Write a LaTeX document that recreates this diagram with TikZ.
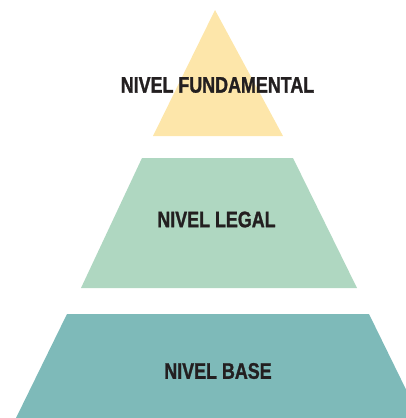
\documentclass[tikz,border=0pt]{standalone}
\usepackage{fontspec}
\newfontfamily\labelfont[FakeStretch=0.795,FakeBold=1.2]{Liberation Sans}
\definecolor{topyellow}{HTML}{FDE6AA}
\definecolor{midgreen}{HTML}{AFD7C1}
\definecolor{baseteal}{HTML}{7EBAB9}
\definecolor{labeltext}{HTML}{231F20}
\begin{document}
\begin{tikzpicture}[x=1pt,y=-1pt,
  tier/.style={draw=none},
  tierlabel/.style={font=\labelfont\bfseries\fontsize{22.5}{24}\selectfont, text=labeltext, inner sep=0pt}]
\useasboundingbox (0,0) rectangle (406,418);
\begin{scope}
\clip (0,0) rectangle (406,418);
\fill[tier, topyellow] (215,10) -- (283,136) -- (153,136) -- cycle;
\fill[tier, midgreen] (142,158) -- (293,158) -- (357,288) -- (81,288) -- cycle;
\fill[tier, baseteal] (67,314) -- (369,314) -- (420,418) -- (16,418) -- cycle;
\end{scope}
\node[tierlabel] (fund) at (217.5,85) {NIVEL FUNDAMENTAL};
\node[tierlabel] (legal) at (216.5,219.5) {NIVEL LEGAL};
\node[tierlabel] (base) at (218,371) {NIVEL BASE};
\end{tikzpicture}
\end{document}
